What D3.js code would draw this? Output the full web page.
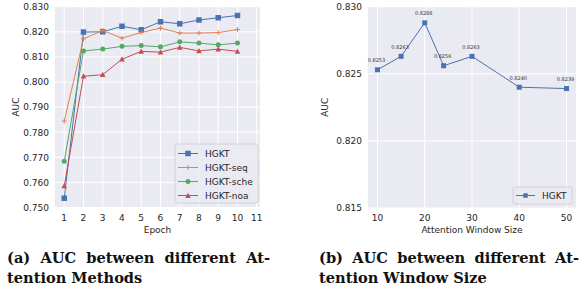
<!DOCTYPE html>
<html>
<head>
<meta charset="utf-8">
<script src="https://cdn.jsdelivr.net/npm/d3@7"></script>
<style>
  body { margin: 0; background: #fff; }
  svg { display: block; }
</style>
</head>
<body>
<svg id="chart" width="586" height="297"></svg>
<script>
(function() {

  // ---- data: left panel (AUC per epoch) ----
  const epochs = [1, 2, 3, 4, 5, 6, 7, 8, 9, 10]
  const seriesNames = ['HGKT', 'HGKT-seq', 'HGKT-sche', 'HGKT-noa']
  const hgkt     = [0.7537, 0.8199, 0.8200, 0.8222, 0.8208, 0.8240, 0.8232, 0.8247, 0.8256, 0.8265]
  const hgktSeq  = [0.7844, 0.8172, 0.8205, 0.8175, 0.8197, 0.8215, 0.8195, 0.8195, 0.8197, 0.8209]
  const hgktSche = [0.7684, 0.8124, 0.8131, 0.8142, 0.8145, 0.8140, 0.8160, 0.8155, 0.8148, 0.8155]
  const hgktNoa  = [0.7586, 0.8023, 0.8029, 0.8091, 0.8122, 0.8119, 0.8138, 0.8124, 0.8131, 0.8122]
  const epochTicks = [1, 2, 3, 4, 5, 6, 7, 8, 9, 10, 11]
  const aucTicksA = [0.750, 0.760, 0.770, 0.780, 0.790, 0.800, 0.810, 0.820, 0.830]

  // ---- data: right panel (AUC per window size) ----
  const windowSizes = [10, 15, 20, 24, 30, 40, 50]
  const windowAuc = [0.8253, 0.8263, 0.8288, 0.8256, 0.8263, 0.8240, 0.8239]
  const windowTicks = [10, 20, 30, 40, 50]
  const aucTicksB = [0.815, 0.820, 0.825, 0.830]

  const colors = ['#4C72B0', '#DD8452', '#55A868', '#C44E52']
  const markers = ['square', 'plus', 'circle', 'triangle']
  const allSeries = [hgkt, hgktSeq, hgktSche, hgktNoa]

  const svg = d3.select('#chart')
  const tickFont = 'DejaVu Sans, sans-serif'
  const textColor = '#262626'

  function marker(sel, type, color, size) {
    if (type === 'square') {
      sel.append('rect')
        .attr('x', -size / 2).attr('y', -size / 2)
        .attr('width', size).attr('height', size)
        .attr('fill', color)
    } else if (type === 'circle') {
      sel.append('circle').attr('r', size / 2).attr('fill', color)
    } else if (type === 'triangle') {
      const h = size * 0.95
      sel.append('path')
        .attr('d', `M0,${-h / 2 - 0.5}L${size / 2 + 0.3},${h / 2}L${-size / 2 - 0.3},${h / 2}Z`)
        .attr('fill', color)
    } else if (type === 'plus') {
      sel.append('path')
        .attr('d', `M${-size / 2},0H${size / 2}M0,${-size / 2}V${size / 2}`)
        .attr('stroke', color).attr('stroke-width', 1)
    }
  }

  function frame(g, x, y, xTicks, yTicks, yFmt, xLabel) {
    const [x0, x1] = x.range()
    const [y0, y1] = y.range()
    g.append('rect')
      .attr('x', x0).attr('y', y1)
      .attr('width', x1 - x0).attr('height', y0 - y1)
      .attr('fill', '#EAEAF2')

    g.selectAll('.vgrid').data(xTicks).enter().append('line')
      .attr('x1', d => x(d)).attr('x2', d => x(d))
      .attr('y1', y0).attr('y2', y1)
      .attr('stroke', '#fff').attr('stroke-width', 1)
    g.selectAll('.hgrid').data(yTicks).enter().append('line')
      .attr('x1', x0).attr('x2', x1)
      .attr('y1', d => y(d)).attr('y2', d => y(d))
      .attr('stroke', '#fff').attr('stroke-width', 1)

    g.selectAll('.xt').data(xTicks).enter().append('text')
      .attr('x', d => x(d)).attr('y', y0 + 13)
      .attr('text-anchor', 'middle')
      .attr('font-family', tickFont).attr('font-size', 9)
      .attr('fill', textColor)
      .text(d => d)
    g.selectAll('.yt').data(yTicks).enter().append('text')
      .attr('x', x0 - 6).attr('y', d => y(d) + 3.3)
      .attr('text-anchor', 'end')
      .attr('font-family', tickFont).attr('font-size', 9)
      .attr('fill', textColor)
      .text(yFmt)

    g.append('text')
      .attr('x', (x0 + x1) / 2).attr('y', y0 + 25)
      .attr('text-anchor', 'middle')
      .attr('font-family', tickFont).attr('font-size', 9)
      .attr('fill', textColor)
      .text(xLabel)
  }

  // ---- left panel ----
  const xA = d3.scaleLinear().domain([0.52, 11.17]).range([55, 260])
  const yA = d3.scaleLinear().domain([0.750, 0.830]).range([207.5, 6.7])
  const gA = svg.append('g')
  frame(gA, xA, yA, epochTicks, aucTicksA, d3.format('.3f'), 'Epoch')
  gA.append('text')
    .attr('transform', 'translate(19,' + ((207.5 + 6.7) / 2) + ') rotate(-90)')
    .attr('text-anchor', 'middle')
    .attr('font-family', tickFont).attr('font-size', 9)
    .attr('fill', textColor)
    .text('AUC')

  const lineA = d3.line().x((d, i) => xA(epochs[i])).y(d => yA(d))
  allSeries.forEach(function(vals, s) {
    gA.append('path')
      .attr('d', lineA(vals))
      .attr('fill', 'none')
      .attr('stroke', colors[s]).attr('stroke-width', 1)
    vals.forEach(function(v, i) {
      const m = gA.append('g').attr('transform', `translate(${xA(epochs[i])},${yA(v)})`)
      marker(m, markers[s], colors[s], s === 0 ? 5.5 : 5)
    })
  })

  // legend left
  const legA = gA.append('g')
  legA.append('rect')
    .attr('x', 175).attr('y', 144).attr('width', 83).attr('height', 59)
    .attr('rx', 2).attr('fill', '#EAEAF2').attr('fill-opacity', 0.8)
    .attr('stroke', '#ccc').attr('stroke-width', 0.8)
  seriesNames.forEach(function(name, s) {
    const ly = 153.5 + s * 14
    legA.append('line')
      .attr('x1', 178).attr('x2', 198).attr('y1', ly).attr('y2', ly)
      .attr('stroke', colors[s]).attr('stroke-width', 1)
    marker(legA.append('g').attr('transform', `translate(188,${ly})`), markers[s], colors[s], s === 0 ? 5.5 : 5)
    legA.append('text')
      .attr('x', 205).attr('y', ly + 3.3)
      .attr('font-family', tickFont).attr('font-size', 9)
      .attr('fill', textColor)
      .text(name)
  })

  // ---- right panel ----
  const xB = d3.scaleLinear().domain([8, 52]).range([368, 576])
  const yB = d3.scaleLinear().domain([0.815, 0.830]).range([208, 6.7])
  const gB = svg.append('g')
  frame(gB, xB, yB, windowTicks, aucTicksB, d3.format('.3f'), 'Attention Window Size')
  gB.append('text')
    .attr('transform', 'translate(328,' + ((208 + 6.7) / 2) + ') rotate(-90)')
    .attr('text-anchor', 'middle')
    .attr('font-family', tickFont).attr('font-size', 9)
    .attr('fill', textColor)
    .text('AUC')

  const lineB = d3.line().x((d, i) => xB(windowSizes[i])).y(d => yB(d))
  gB.append('path')
    .attr('d', lineB(windowAuc))
    .attr('fill', 'none')
    .attr('stroke', colors[0]).attr('stroke-width', 1)
  windowAuc.forEach(function(v, i) {
    const px = xB(windowSizes[i]), py = yB(v)
    marker(gB.append('g').attr('transform', `translate(${px},${py})`), 'square', colors[0], 5)
    gB.append('text')
      .attr('x', px - 1).attr('y', py - 7.5)
      .attr('text-anchor', 'middle')
      .attr('font-family', tickFont).attr('font-size', 5)
      .attr('fill', '#333')
      .text(d3.format('.4f')(v))
  })

  const legB = gB.append('g')
  legB.append('rect')
    .attr('x', 513).attr('y', 187).attr('width', 59).attr('height', 17)
    .attr('rx', 2).attr('fill', '#EAEAF2').attr('fill-opacity', 0.8)
    .attr('stroke', '#ccc').attr('stroke-width', 0.8)
  legB.append('line')
    .attr('x1', 516).attr('x2', 535).attr('y1', 195.5).attr('y2', 195.5)
    .attr('stroke', colors[0]).attr('stroke-width', 1)
  marker(legB.append('g').attr('transform', 'translate(525.5,195.5)'), 'square', colors[0], 4.5)
  legB.append('text')
    .attr('x', 542).attr('y', 198.8)
    .attr('font-family', tickFont).attr('font-size', 9)
    .attr('fill', textColor)
    .text('HGKT')

  // ---- captions (first line justified by widening word gaps) ----
  const capFont = 'DejaVu Serif, serif'
  const capSize = 14.6
  function caption(x, line1, w1, line2) {
    const t1 = svg.append('text')
      .attr('x', x).attr('y', 263)
      .attr('font-family', capFont).attr('font-size', capSize).attr('font-weight', 'bold')
      .attr('fill', '#111')
      .text(line1)
    const natural = t1.node().getComputedTextLength()
    const gaps = line1.split(' ').length - 1
    t1.attr('word-spacing', (w1 - natural) / gaps)
    svg.append('text')
      .attr('x', x).attr('y', 283)
      .attr('font-family', capFont).attr('font-size', capSize).attr('font-weight', 'bold')
      .attr('fill', '#111')
      .text(line2)
  }
  caption(7, '(a) AUC between different At-', 263, 'tention Methods')
  caption(319, '(b) AUC between different At-', 260, 'tention Window Size')
})();
</script>
</body>
</html>
